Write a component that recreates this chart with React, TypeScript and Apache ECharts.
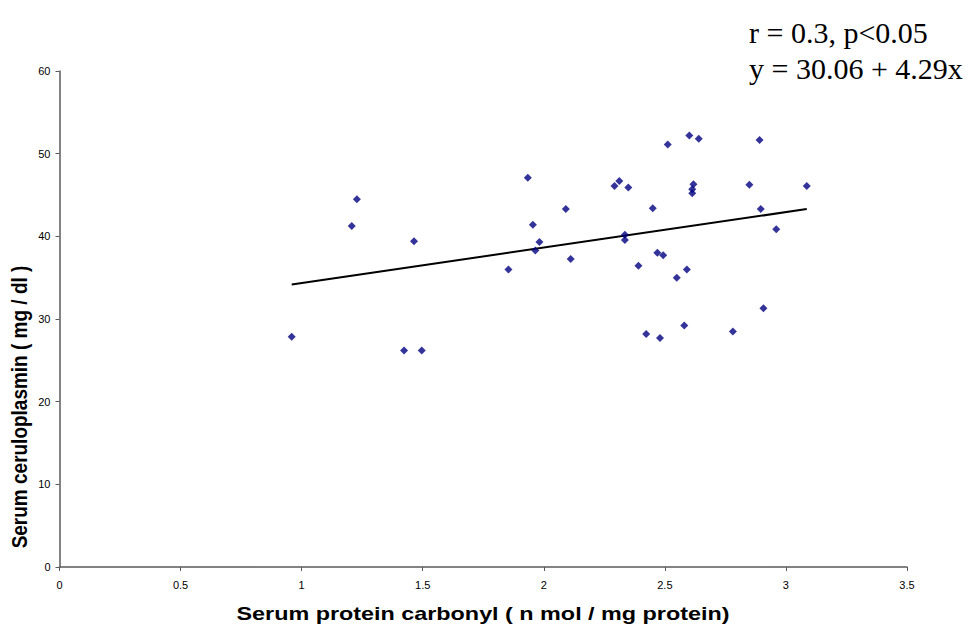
import React, { useEffect, useRef } from "react";
import * as echarts from "echarts";

const carbonyl = [
  0.959, 1.228, 1.207, 1.464, 1.423, 1.496, 1.934, 1.955, 1.982, 1.965,
  1.854, 2.601, 2.640, 2.512, 2.891, 2.312, 2.292, 2.349, 2.618, 2.613,
  2.613, 2.849, 3.086, 2.091, 2.450, 2.896, 2.960, 2.335, 2.335, 2.111,
  2.469, 2.493, 2.391, 2.591, 2.549, 2.907, 2.580, 2.423, 2.480, 2.781,
];
const ceruloplasmin = [
  27.86, 44.5, 41.25, 39.4, 26.2, 26.2, 47.1, 41.4, 39.3, 38.3,
  36.0, 52.2, 51.8, 51.1, 51.65, 46.7, 46.1, 45.9, 46.3, 45.7,
  45.2, 46.25, 46.1, 43.3, 43.4, 43.3, 40.85, 40.2, 39.55, 37.25,
  38.0, 37.7, 36.45, 36.0, 35.0, 31.3, 29.2, 28.2, 27.7, 28.5,
];
const intercept = 30.06;
const slope = 4.29;
const statsText = ["r = 0.3, p<0.05", "y = 30.06 + 4.29x"];
const xTitle = "Serum protein carbonyl ( n mol / mg protein)";
const yTitle = "Serum ceruloplasmin ( mg / dl )";

export default function App() {
  const ref = useRef<HTMLDivElement>(null);
  useEffect(() => {
    if (!ref.current) return;
    const chart = echarts.init(ref.current, null, { renderer: "svg" });
    const points = carbonyl.map((x, i) => [x, ceruloplasmin[i]]);
    const xMin = Math.min(...carbonyl);
    const xMax = Math.max(...carbonyl);
    const fit = [
      [xMin, intercept + slope * xMin],
      [xMax, intercept + slope * xMax],
    ];
    chart.setOption({
      animation: false,
      backgroundColor: "#ffffff",
      grid: { left: 59.5, right: 72, top: 71, bottom: 60, containLabel: false },
      xAxis: {
        type: "value",
        min: 0,
        max: 3.5,
        interval: 0.5,
        splitLine: { show: false },
        axisLine: { onZero: false, lineStyle: { color: "#5a5a5a", width: 1.5 } },
        axisTick: { show: true, length: 4, lineStyle: { color: "#5a5a5a" } },
        axisLabel: {
          color: "#000",
          fontFamily: "Liberation Sans, Arial, sans-serif",
          fontSize: 11,
          margin: 12,
        },
      },
      yAxis: {
        type: "value",
        min: 0,
        max: 60,
        interval: 10,
        splitLine: { show: false },
        axisLine: { show: true, lineStyle: { color: "#5a5a5a", width: 1.5 } },
        axisTick: { show: true, length: 4, lineStyle: { color: "#5a5a5a" } },
        axisLabel: {
          color: "#000",
          fontFamily: "Liberation Sans, Arial, sans-serif",
          fontSize: 11,
          margin: 9,
        },
      },
      series: [
        {
          type: "scatter",
          data: points,
          symbol: "diamond",
          symbolSize: 8,
          itemStyle: { color: "#000080" },
          z: 3,
        },
        {
          type: "line",
          data: fit,
          symbol: "none",
          lineStyle: { color: "#000", width: 2 },
          z: 2,
        },
      ],
      graphic: [
        {
          type: "text",
          left: 749,
          top: 14,
          style: {
            text: statsText.join("\n"),
            fontFamily: "Liberation Serif, Times New Roman, serif",
            fontSize: 30,
            lineHeight: 36,
            fill: "#000",
          },
        },
        {
          type: "text",
          x: 483,
          y: 614,
          scaleX: 1.23,
          style: {
            text: xTitle,
            fontFamily: "Liberation Sans, Arial, sans-serif",
            fontWeight: "bold",
            fontSize: 19,
            fill: "#000",
            align: "center",
            verticalAlign: "middle",
          },
        },
        {
          type: "text",
          x: 19,
          y: 407,
          rotation: Math.PI / 2,
          scaleY: 1.2,
          style: {
            text: yTitle,
            fontFamily: "Liberation Sans, Arial, sans-serif",
            fontWeight: "bold",
            fontSize: 19,
            fill: "#000",
            align: "center",
            verticalAlign: "middle",
          },
        },
      ],
    });
    return () => chart.dispose();
  }, []);
  return (
    <div
      ref={ref}
      style={{ position: "fixed", left: 0, top: 0, width: 979, height: 627 }}
    />
  );
}
